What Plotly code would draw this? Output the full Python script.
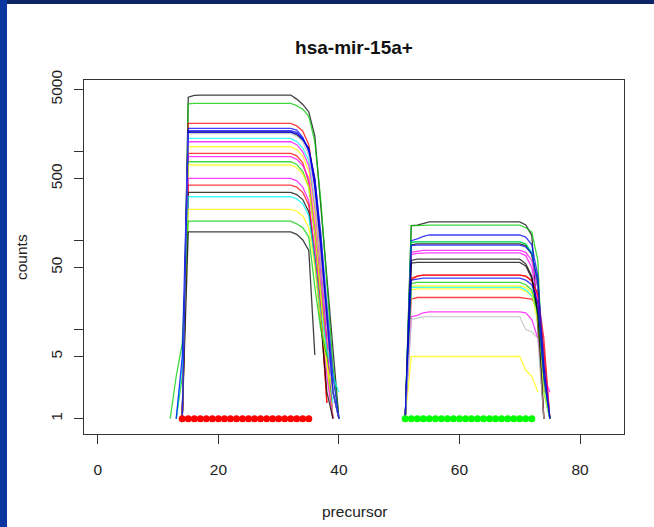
import plotly.graph_objects as go

# Read-depth profiles per sample along the hsa-mir-15a precursor (log counts).
# Positions sampled on each arm; between the arms the counts are zero (not drawn).
LEFT_POS = [12, 13, 14, 15, 16, 17, 32, 33, 34, 35, 36, 37, 38, 39, 40]
RIGHT_POS = [51, 52, 53, 54, 55, 70, 71, 72, 73, 74, 75]

SAMPLE_COLORS = [
    "black", "green3", "red", "blue", "black", "cyan", "magenta", "yellow",
    "red", "magenta", "green3", "yellow", "magenta", "red", "black", "cyan",
    "yellow", "green3", "black", "blue", "gray", "blue",
]

N = None
LEFT_COUNTS = [
    [N, N, 1, 4100, 4300, 4335, 4335, 3900, 3400, 2800, 1500, 250, 40, 6, 1],
    [N, N, 1, 3450, 3500, 3500, 3500, 3300, 3000, 2500, 1300, 280, 35, 4, 1],
    [N, N, 1, 2085, 2085, 2085, 2085, 1950, 1700, 1200, 400, 60, 8, 1, N],
    [N, N, 1, 1830, 1830, 1830, 1830, 1750, 1450, 1000, 400, 80, 12, 2, 1],
    [N, N, 1, 1665, 1665, 1665, 1665, 1550, 1350, 1100, 500, 100, 15, 2, 1],
    [N, N, 1, 1415, 1415, 1415, 1415, 1300, 1100, 800, 250, 40, 5, 1.5, N],
    [N, N, 1, 1295, 1295, 1295, 1295, 1200, 1000, 700, 220, 40, 6, 1, N],
    [N, N, 1, 1138, 1138, 1138, 1138, 1050, 900, 600, 200, 30, 4, 1, N],
    [N, N, 1, 960, 960, 960, 960, 900, 750, 450, 120, 16, 1.5, N, N],
    [N, N, 1, 879, 879, 879, 879, 820, 700, 500, 150, 30, 5, 1, N],
    [N, 1, 3, 772, 772, 772, 772, 720, 600, 400, 120, 25, 5, 1, N],
    [N, N, 1, 709, 709, 709, 709, 660, 560, 400, 120, 25, 4, 1, N],
    [N, N, 1, 502, 502, 502, 502, 470, 400, 280, 80, 15, 3, 1, N],
    [N, N, 1, 422, 422, 422, 422, 400, 350, 250, 60, 16, 1.5, N, N],
    [N, N, 1, 350, 350, 350, 350, 330, 290, 210, 60, 12, 2, 1, N],
    [N, 1, 4, 312, 312, 312, 312, 295, 260, 190, 60, 15, 6, 3, 2],
    [N, N, 1, 225, 225, 225, 225, 215, 190, 140, 50, 12, 4, 2, 1],
    [1, 3, 7, 166, 166, 166, 166, 155, 140, 110, 30, 10, 5, N, N],
    [N, N, 1, 126, 126, 126, 126, 118, 102, 78, 5.2, N, N, N, N],
    [N, 1, 5, 1720, 1720, 1720, 1720, 1650, 1400, 1050, 500, 120, 20, 3, 1],
    [N, N, 1, 1600, 1600, 1600, 1600, 1500, 1300, 900, 300, 60, 10, 2, 1],
    [N, N, 1, 1650, 1650, 1650, 1650, 1600, 1380, 1080, 450, 90, 14, 2, 1],
]
RIGHT_COUNTS = [
    [1, 148, 150, 158, 163, 163, 150, 115, 11, 1, N],
    [1, 148, 148, 150, 150, 150, 140, 125, 60, 2, 1],
    [1, 36, 40, 41, 41, 41, 40, 36, 25, 8, 1],
    [1, 100, 105, 112, 116, 116, 110, 90, 40, 3, 1],
    [1, 90, 92, 92, 92, 92, 88, 70, 30, 4, 1],
    [1, 97, 97, 97, 97, 97, 92, 75, 30, 5, 1],
    [1, 74, 76, 78, 78, 78, 74, 60, 30, 5, 1],
    [1, 28, 28.7, 28.7, 28.7, 28.7, 27, 24, 15, 3, 1],
    [1, 22, 23, 23, 23, 23, 22.5, 22, 18, 1, N],
    [1, 70, 72, 73, 73, 73, 68, 50, 20, 2, N],
    [1, 96, 97, 97, 97, 97, 92, 70, 35, 3, 1],
    [1, 5, 5, 5, 5, 5, 3.5, 3, 2, N, N],
    [1, 14, 14.5, 15.5, 15.9, 15.9, 15.5, 13, 8, 3, 2],
    [1, 38, 40, 41, 41, 41, 40, 35, 25, 6, 1],
    [1, 56, 57, 57, 57, 57, 52, 38, 15, 2, N],
    [1, 30, 30, 30, 30, 30, 28, 24, 15, 2, 1],
    [1, 31, 31, 31, 31, 31, 30, 26, 12, 2, 1],
    [1, 33, 34, 34, 34, 34, 32, 28, 16, 3, 1],
    [1, 60, 62, 62, 62, 62, 55, 40, 15, 1, N],
    [1, 36, 37, 38, 38, 38, 36, 32, 20, 3, 1],
    [1, 13, 13.5, 14, 14, 14, 10, 9.5, 8, 1, N],
    [1, 88, 89, 89, 89, 89, 85, 72, 35, 4, 1],
]

# Mature miRNA positions (5p arm in red, 3p arm in green), drawn at count 1
MATURE_5P = list(range(14, 36))
MATURE_3P = list(range(51, 73))

X_TICKS = [0, 20, 40, 60, 80]
Y_TICKS = [1, 5, 10, 50, 100, 500, 1000, 5000]
Y_TICK_TEXT = ["1", "5", "", "50", "", "500", "", "5000"]

R_COLORS = {
    "black": "#000000", "red": "#ff0000", "green3": "#00cd00", "blue": "#0000ff",
    "cyan": "#00ffff", "magenta": "#ff00ff", "yellow": "#ffff00", "gray": "#bebebe",
}

fig = go.Figure()

# one trace per sample; the gap between arms breaks the line
gap_x = 45
for color, left, right in zip(SAMPLE_COLORS, LEFT_COUNTS, RIGHT_COUNTS):
    fig.add_trace(go.Scatter(
        x=LEFT_POS + [gap_x] + RIGHT_POS,
        y=left + [None] + right,
        mode="lines",
        line=dict(color=R_COLORS[color], width=1.3),
        opacity=0.75,
        connectgaps=False,
        hoverinfo="skip",
        showlegend=False,
    ))

fig.add_trace(go.Scatter(
    x=MATURE_5P, y=[1] * len(MATURE_5P), mode="markers",
    marker=dict(color="#ff0000", size=7, line=dict(width=0)), showlegend=False,
))
fig.add_trace(go.Scatter(
    x=MATURE_3P, y=[1] * len(MATURE_3P), mode="markers",
    marker=dict(color="#00ff00", size=7, line=dict(width=0)), showlegend=False,
))

W, H = 654, 527
ML, MR, MT, MB = 84, 30, 80, 93
PW, PH = W - ML - MR, H - MT - MB


def px_x(p):
    return (p - ML) / PW


def px_y(p):
    return (H - MB - p) / PH


FONT = "Liberation Sans, Arial, Helvetica, sans-serif"
INK = "#222222"

# dark blue slide frame along the top and left edges
frame = [
    dict(type="rect", xref="paper", yref="paper",
         x0=px_x(0), x1=px_x(W), y0=px_y(4), y1=px_y(0),
         fillcolor="#0d2565", line=dict(width=0), layer="above"),
    dict(type="rect", xref="paper", yref="paper",
         x0=px_x(0), x1=px_x(7), y0=px_y(H), y1=px_y(0),
         fillcolor="#0a36a0", line=dict(width=0), layer="above"),
]

fig.update_layout(
    width=W, height=H,
    margin=dict(l=ML, r=MR, t=MT, b=MB, pad=0),
    paper_bgcolor="white", plot_bgcolor="white",
    font=dict(family=FONT, size=15.5, color=INK),
    title=dict(text="<b>hsa-mir-15a+</b>", x=px_x(354), xref="paper",
               xanchor="center", y=1 - 47 / H, yanchor="middle",
               font=dict(family=FONT, size=19, color="#111111")),
    shapes=frame,
    annotations=[
        dict(text="precursor", xref="paper", yref="paper", x=0.5, y=px_y(511),
             xanchor="center", yanchor="middle", showarrow=False,
             font=dict(family=FONT, size=15.5, color=INK)),
        dict(text="counts", xref="paper", yref="paper", x=px_x(21), y=0.5,
             xanchor="center", yanchor="middle", textangle=-90, showarrow=False,
             font=dict(family=FONT, size=15.5, color=INK)),
    ],
)

fig.update_xaxes(
    range=[-2.3, 87.3], tickvals=X_TICKS, ticks="outside", ticklen=9,
    tickwidth=1, tickcolor="#333333", showline=True, linecolor="#333333",
    linewidth=1, mirror=True, showgrid=False, zeroline=False,
    ticklabelstandoff=12, tickfont=dict(family=FONT, size=15.5, color=INK),
)
fig.update_yaxes(
    type="log", range=[-0.172, 3.806], tickvals=Y_TICKS, ticktext=Y_TICK_TEXT,
    ticks="outside", ticklen=9, tickwidth=1, tickcolor="#333333",
    showline=True, linecolor="#333333", linewidth=1, mirror=True,
    showgrid=False, zeroline=False, tickangle=-90, ticklabelstandoff=6,
    tickfont=dict(family=FONT, size=15.5, color=INK),
)

fig.write_html("out.html")
